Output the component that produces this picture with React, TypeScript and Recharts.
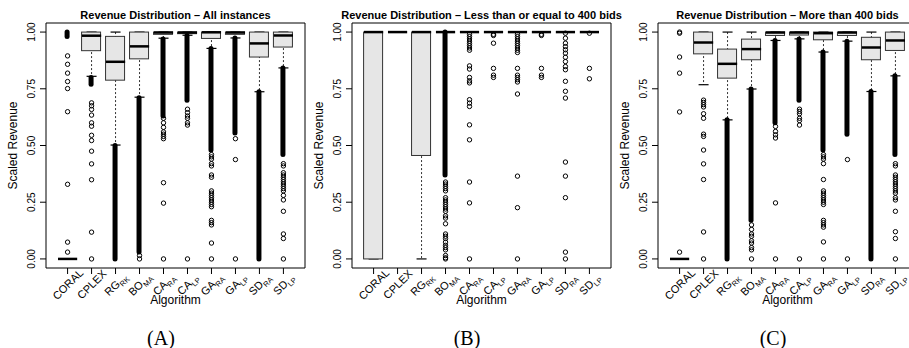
import React from 'react';
import { ComposedChart, Bar, Scatter, XAxis, YAxis, ReferenceArea, Label } from 'recharts';

const algorithms = ['CORAL', 'CPLEX', 'RG', 'BO', 'CA', 'CA', 'GA', 'GA', 'SD', 'SD'];
const subscripts = ['', '', 'RK', 'MA', 'RA', 'LP', 'RA', 'LP', 'RA', 'LP'];
const positions = [1, 2, 3, 4, 5, 6, 7, 8, 9, 10];
const yTicks = [0, 0.25, 0.5, 0.75, 1];

// [lower whisker, q1, median, q3, upper whisker] for each algorithm
const allStats = [
  [0, 0, 0, 0, 0],
  [0.805, 0.918, 0.984, 1, 1],
  [0.502, 0.788, 0.869, 0.981, 1],
  [0.713, 0.882, 0.937, 1, 1],
  [0.973, 0.99, 0.998, 1, 1],
  [0.986, 0.993, 0.998, 1, 1],
  [0.928, 0.972, 0.999, 1, 1],
  [0.974, 0.99, 0.998, 1, 1],
  [0.737, 0.89, 0.95, 1, 1],
  [0.842, 0.934, 0.985, 1, 1],
];
// outliers packed so tightly they print as a solid column: [from, to]
const allDense = [
  [0.98, 1], [0.77, 0.8], [0, 0.5], [0.03, 0.71], [0.63, 0.97],
  [0.7, 0.985], [0.48, 0.928], [0.555, 0.974], [0, 0.737], [0.46, 0.842],
];
const allOutliers = [
  [0.895, 0.858, 0.819, 0.782, 0.751, 0.649, 0.329, 0.074, 0.03],
  [0.688, 0.675, 0.659, 0.634, 0.6, 0.585, 0.545, 0.522, 0.475, 0.419, 0.349, 0.118, 0],
  [],
  [0.015, 0],
  [0.62, 0.6, 0.58, 0.56, 0.55, 0.54, 0.53, 0.336, 0.246, 0],
  [0.66, 0.645, 0.63, 0.62, 0.6, 0.59, 0],
  [0.46, 0.45, 0.44, 0.42, 0.41, 0.37, 0.36, 0.3, 0.29, 0.28, 0.27, 0.26, 0.25, 0.24, 0.23, 0.17, 0.16, 0.15, 0.07, 0],
  [0.53, 0.438, 0],
  [],
  [0.42, 0.41, 0.38, 0.37, 0.36, 0.35, 0.34, 0.33, 0.32, 0.31, 0.3, 0.28, 0.26, 0.21, 0.11, 0.09, 0],
];

const smallStats = [
  [0, 0, 1, 1, 1],
  [1, 1, 1, 1, 1],
  [0, 0.456, 1, 1, 1],
  [1, 1, 1, 1, 1],
  [1, 1, 1, 1, 1],
  [1, 1, 1, 1, 1],
  [1, 1, 1, 1, 1],
  [1, 1, 1, 1, 1],
  [1, 1, 1, 1, 1],
  [1, 1, 1, 1, 1],
];
const smallDense = [null, null, null, [0.37, 1], null, null, null, null, null, null];
const smallOutliers = [
  [],
  [],
  [],
  [0.339, 0.33, 0.32, 0.31, 0.3, 0.27, 0.26, 0.25, 0.24, 0.23, 0.22, 0.21, 0.19, 0.18, 0.155, 0.11, 0.1, 0.09, 0.074, 0.06, 0.05, 0.04, 0.015, 0.005, 0],
  [0.99, 0.98, 0.97, 0.96, 0.95, 0.94, 0.93, 0.92, 0.851, 0.837, 0.8, 0.785, 0.776, 0.702, 0.687, 0.672, 0.591, 0.525, 0.339, 0.247, 0],
  [0.99, 0.985, 0.951, 0.84, 0.81, 0.8],
  [0.99, 0.98, 0.97, 0.96, 0.95, 0.94, 0.93, 0.92, 0.91, 0.84, 0.81, 0.8, 0.79, 0.78, 0.727, 0.365, 0.226, 0],
  [0.99, 0.985, 0.84, 0.81, 0.8],
  [0.995, 0.973, 0.951, 0.936, 0.922, 0.907, 0.889, 0.87, 0.848, 0.834, 0.783, 0.739, 0.709, 0.427, 0.365, 0.27, 0.03, 0],
  [0.995, 0.84, 0.794],
];

const largeStats = [
  [0, 0, 0, 0, 0],
  [0.768, 0.904, 0.954, 1, 1],
  [0.613, 0.797, 0.86, 0.925, 1],
  [0.749, 0.878, 0.925, 0.969, 1],
  [0.963, 0.985, 0.998, 1, 1],
  [0.97, 0.987, 0.998, 1, 1],
  [0.912, 0.966, 0.995, 1, 1],
  [0.96, 0.985, 0.998, 1, 1],
  [0.738, 0.878, 0.932, 0.977, 1],
  [0.807, 0.919, 0.963, 1, 1],
];
const largeDense = [
  null, null, [0, 0.613], [0.17, 0.749], [0.6, 0.963],
  [0.7, 0.97], [0.48, 0.912], [0.55, 0.96], [0, 0.738], [0.46, 0.807],
];
const largeOutliers = [
  [1, 0.995, 0.89, 0.819, 0.648, 0.03],
  [0.7, 0.69, 0.68, 0.67, 0.64, 0.62, 0.55, 0.54, 0.48, 0.419, 0.35, 0.119, 0],
  [],
  [0.15, 0.13, 0.11, 0.1, 0.08, 0.07, 0.05, 0.04, 0],
  [0.584, 0.562, 0.547, 0.533, 0.247, 0],
  [0.66, 0.65, 0.64, 0.62, 0.61, 0.59, 0],
  [0.46, 0.45, 0.44, 0.42, 0.35, 0.3, 0.29, 0.28, 0.27, 0.26, 0.25, 0.24, 0.17, 0.16, 0.15, 0.14, 0.075, 0],
  [0.438, 0],
  [],
  [0.42, 0.41, 0.37, 0.36, 0.35, 0.34, 0.33, 0.32, 0.31, 0.3, 0.29, 0.27, 0.26, 0.21, 0.12, 0.09, 0],
];

const panels = [
  { title: 'Revenue Distribution – All instances', caption: '(A)', left: 0, stats: allStats, dense: allDense, outliers: allOutliers },
  { title: 'Revenue Distribution – Less than or equal to 400 bids', caption: '(B)', left: 306, stats: smallStats, dense: smallDense, outliers: smallOutliers },
  { title: 'Revenue Distribution – More than 400 bids', caption: '(C)', left: 612, stats: largeStats, dense: largeDense, outliers: largeOutliers },
];

const SANS = '"Liberation Sans", Arial, sans-serif';
const W = 310;
const H = 348;
const X_DOMAIN = [0.1, 10.9];

// labels are centred on their tick, rotated 45 degrees
const AlgoTick = (props: any) => {
  const { x, y, payload } = props;
  const i = payload.value - 1;
  const ax = x + 3;
  const ay = y + 13;
  return (
    <text x={ax} y={ay} transform={`rotate(-45, ${ax}, ${ay})`} textAnchor="middle" fontSize={11} fontFamily={SANS} fill="#000">
      {algorithms[i]}
      {subscripts[i] && <tspan fontSize={7.5} dy={3}>{subscripts[i]}</tspan>}
    </text>
  );
};

const ValueTick = (props: any) => {
  const { x, y, payload } = props;
  const tx = x - 5;
  return (
    <text x={tx} y={y} transform={`rotate(-90, ${tx}, ${y})`} textAnchor="middle" fontSize={10} fontFamily={SANS} fill="#000">
      {Number(payload.value).toFixed(2)}
    </text>
  );
};

const YTitle = (props: any) => {
  const vb = props.viewBox;
  const tx = vb.x + 11;
  const ty = vb.y + vb.height / 2;
  return (
    <text x={tx} y={ty} transform={`rotate(-90, ${tx}, ${ty})`} textAnchor="middle" fontSize={12} fontFamily={SANS} fill="#000">
      Scaled Revenue
    </text>
  );
};

const XTitle = (props: any) => {
  const vb = props.viewBox;
  return (
    <text x={vb.x + vb.width / 2} y={vb.y + 36} textAnchor="middle" fontSize={12} fontFamily={SANS} fill="#000">
      Algorithm
    </text>
  );
};

const WhiskerShape = (props: any) => {
  const { x, y, width, height } = props;
  const cx = x + width / 2;
  const top = Math.min(y, y + height);
  const bottom = Math.max(y, y + height);
  return (
    <g>
      <line x1={cx} x2={cx} y1={top} y2={bottom} stroke="#333" strokeDasharray="2 2" />
      <line x1={x} x2={x + width} y1={top} y2={top} stroke="#000" strokeWidth={1.2} />
      <line x1={x} x2={x + width} y1={bottom} y2={bottom} stroke="#000" strokeWidth={1.2} />
    </g>
  );
};

const BoxShape = (props: any) => {
  const { x, y, width, height } = props;
  const top = Math.min(y, y + height);
  return <rect x={x} y={top} width={width} height={Math.abs(height)} fill="#e6e6e6" stroke="#333" strokeWidth={1} />;
};

const BandShape = (props: any) => {
  const { x, y, width, height, payload } = props;
  if (!payload.band) return <g />;
  const top = Math.min(y, y + height);
  const h = Math.abs(height);
  return <rect x={x} y={top - width / 2} width={width} height={h + width} rx={width / 2} fill="#000" />;
};

const MedianShape = (props: any) => {
  const { cx, cy } = props;
  return <line x1={cx - 9.6} x2={cx + 9.6} y1={cy} y2={cy} stroke="#000" strokeWidth={2.5} />;
};

const OutlierShape = (props: any) => {
  const { cx, cy } = props;
  return <circle cx={cx} cy={cy} r={2.2} fill="none" stroke="#000" strokeWidth={1} />;
};

const BoxPanel = ({ title, caption, left, stats, dense, outliers }: any) => {
  const rows = stats.map((s: number[], i: number) => ({
    x: positions[i], lo: s[0], q1: s[1], med: s[2], q3: s[3], hi: s[4], band: dense[i],
  }));
  const points = outliers.flatMap((ys: number[], i: number) => ys.map((y) => ({ x: positions[i], y })));

  return (
    <div style={{ position: 'absolute', left, top: 0, width: W, height: H }}>
      <ComposedChart width={W} height={H} data={rows} margin={{ top: 23, right: 5, bottom: 35, left: 6 }}>
        <XAxis
          xAxisId="m" type="number" dataKey="x" domain={X_DOMAIN} ticks={positions} interval={0}
          allowDataOverflow tick={(p: any) => <AlgoTick {...p} />} tickSize={6} tickMargin={0}
          tickLine={{ stroke: '#000' }} axisLine={false} height={45}
        >
          <Label content={(p: any) => <XTitle {...p} />} />
        </XAxis>
        <XAxis xAxisId="w" orientation="top" type="number" dataKey="x" domain={X_DOMAIN} ticks={positions} allowDataOverflow hide />
        <XAxis xAxisId="d" orientation="top" type="number" dataKey="x" domain={X_DOMAIN} ticks={positions} allowDataOverflow hide />
        <YAxis
          type="number" domain={[-0.04, 1.04]} ticks={yTicks} interval={0} allowDataOverflow
          tick={(p: any) => <ValueTick {...p} />} tickSize={6} tickMargin={0}
          tickLine={{ stroke: '#000' }} axisLine={false} width={40}
        >
          <Label content={(p: any) => <YTitle {...p} />} />
        </YAxis>
        <ReferenceArea xAxisId="m" x1={0.1} x2={10.9} y1={-0.04} y2={1.04} fill="none" stroke="#000" ifOverflow="visible" />
        <Bar xAxisId="w" dataKey={(d: any) => [d.lo, d.hi]} barSize={10} shape={WhiskerShape} isAnimationActive={false} />
        <Bar xAxisId="m" dataKey={(d: any) => [d.q1, d.q3]} barSize={19} shape={BoxShape} isAnimationActive={false} />
        <Bar xAxisId="d" dataKey={(d: any) => d.band ?? [0, 0]} barSize={5} shape={BandShape} isAnimationActive={false} />
        <Scatter xAxisId="m" data={rows} dataKey="med" shape={MedianShape} isAnimationActive={false} />
        <Scatter xAxisId="m" data={points} dataKey="y" shape={OutlierShape} isAnimationActive={false} />
      </ComposedChart>
      <div style={{
        position: 'absolute', left: 175.5, top: 10, transform: 'translateX(-50%)', whiteSpace: 'nowrap',
        font: `bold 11px ${SANS}`, lineHeight: '11px', color: '#000',
      }}>
        {title}
      </div>
      <div style={{
        position: 'absolute', left: 161, top: 328, transform: 'translateX(-50%)', whiteSpace: 'nowrap',
        fontFamily: '"Liberation Serif", serif', fontSize: 20, lineHeight: '20px', color: '#000',
      }}>
        {caption}
      </div>
    </div>
  );
};

export default function App() {
  return (
    <div style={{ position: 'absolute', left: 0, top: 0, width: 909, height: 348, overflow: 'hidden', background: '#fff' }}>
      {panels.map((p) => <BoxPanel key={p.caption} {...p} />)}
    </div>
  );
}
